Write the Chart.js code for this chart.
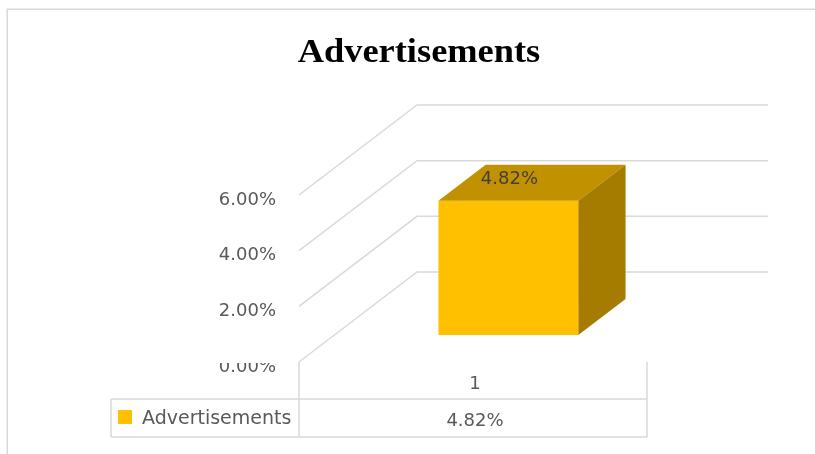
<!DOCTYPE html>
<html>
<head>
<meta charset="utf-8">
<style>
  html, body { margin: 0; padding: 0; background: #ffffff; overflow: hidden; }
  #wrap { width: 815px; height: 454px; position: relative; }
  canvas { display: block; }
</style>
<script src="https://cdn.jsdelivr.net/npm/chart.js@4.4.1/dist/chart.umd.min.js"></script>
</head>
<body>
<div id="wrap"><canvas id="c" width="815" height="454"></canvas></div>
<script>
// ---- data ----
const chartTitle = 'Advertisements';
const categories = ['1'];
const seriesName = 'Advertisements';
const seriesValues = [4.82];
const yTicks = [0, 2, 4, 6];

// ---- style ----
const GRID = '#d9d9d9';
const BAR_FRONT = '#FFC000';
const BAR_TOP = '#C29100';
const BAR_SIDE = '#A67C00';
const TEXT = '#595959';
const DEPTH = { x: 118, y: -90 };   // floor depth vector (front -> back wall)
const BAR_T0 = 0.3, BAR_T1 = 0.7;   // bar depth span
const fmt = v => v.toFixed(2) + '%';
const NUM_FONT = '18px "DejaVu Sans"';

const excel3d = {
  id: 'excel3d',
  beforeDraw(chart) {
    const ctx = chart.ctx;
    ctx.save();
    ctx.fillStyle = '#ffffff';
    ctx.fillRect(0, 0, chart.width, chart.height);
    // outer chart border (top + left)
    ctx.strokeStyle = GRID;
    ctx.lineWidth = 1.5;
    ctx.beginPath();
    ctx.moveTo(7.25, chart.height);
    ctx.lineTo(7.25, 9.25);
    ctx.lineTo(chart.width, 9.25);
    ctx.stroke();
    // title (slightly widened like the reference)
    ctx.fillStyle = '#000000';
    ctx.font = 'bold 34px "Liberation Serif"';
    ctx.textAlign = 'center';
    ctx.textBaseline = 'alphabetic';
    ctx.translate(419, 62);
    ctx.scale(1.07, 1);
    ctx.fillText(chartTitle, 0, 0);
    ctx.restore();
  },
  beforeDatasetsDraw(chart) {
    const ctx = chart.ctx, y = chart.scales.y, a = chart.chartArea;
    ctx.save();
    // gridlines: side wall diagonal + back wall horizontal
    ctx.strokeStyle = GRID;
    ctx.lineWidth = 1.5;
    yTicks.forEach(v => {
      const py = y.getPixelForValue(v);
      ctx.beginPath();
      ctx.moveTo(a.left, py);
      ctx.lineTo(a.left + DEPTH.x, py + DEPTH.y);
      ctx.lineTo(a.right + DEPTH.x + 3, py + DEPTH.y);
      ctx.stroke();
    });
    // value axis labels
    ctx.fillStyle = TEXT;
    ctx.font = NUM_FONT;
    ctx.textAlign = 'right';
    ctx.textBaseline = 'alphabetic';
    yTicks.forEach(v => {
      const py = y.getPixelForValue(v);
      ctx.save();
      if (py >= a.bottom - 1) {
        ctx.beginPath();
        ctx.rect(0, a.bottom + 1, chart.width, 60);
        ctx.clip();
      }
      ctx.fillText(fmt(v), 276, py + 9.5);
      ctx.restore();
    });
    ctx.restore();
    // shift so that the library draws the bar front face at its depth
    ctx.save();
    ctx.translate(DEPTH.x * BAR_T0, DEPTH.y * BAR_T0);
  },
  afterDatasetsDraw(chart) {
    const ctx = chart.ctx;
    ctx.restore();
    const meta = chart.getDatasetMeta(0);
    const ox = DEPTH.x * BAR_T0, oy = DEPTH.y * BAR_T0;
    const dx = DEPTH.x * (BAR_T1 - BAR_T0), dy = DEPTH.y * (BAR_T1 - BAR_T0);
    meta.data.forEach((el, i) => {
      const p = el.getProps(['x', 'y', 'base', 'width'], true);
      const L = p.x - p.width / 2 + ox, R = p.x + p.width / 2 + ox;
      const T = Math.min(p.y, p.base) + oy, B = Math.max(p.y, p.base) + oy;
      ctx.save();
      // top face
      ctx.fillStyle = BAR_TOP;
      ctx.beginPath();
      ctx.moveTo(L, T); ctx.lineTo(L + dx, T + dy); ctx.lineTo(R + dx, T + dy); ctx.lineTo(R, T);
      ctx.closePath(); ctx.fill();
      // side face
      ctx.fillStyle = BAR_SIDE;
      ctx.beginPath();
      ctx.moveTo(R, T); ctx.lineTo(R + dx, T + dy); ctx.lineTo(R + dx, B + dy); ctx.lineTo(R, B);
      ctx.closePath(); ctx.fill();
      // data label
      ctx.fillStyle = '#404040';
      ctx.font = NUM_FONT;
      ctx.textAlign = 'center';
      ctx.textBaseline = 'alphabetic';
      ctx.fillText(fmt(seriesValues[i]), (L + R) / 2 + 1, T - 17);
      ctx.restore();
    });
  },
  afterDraw(chart) {
    const ctx = chart.ctx, a = chart.chartArea, x = chart.scales.x;
    const tableTop = 399, tableBottom = 437, tableLeft = 111;
    ctx.save();
    ctx.strokeStyle = GRID;
    ctx.lineWidth = 1.5;
    ctx.beginPath();
    ctx.moveTo(a.left, a.bottom); ctx.lineTo(a.left, tableBottom);
    ctx.moveTo(a.right, a.bottom); ctx.lineTo(a.right, tableBottom);
    ctx.moveTo(tableLeft, tableTop); ctx.lineTo(a.right, tableTop);
    ctx.moveTo(tableLeft, tableBottom); ctx.lineTo(a.right, tableBottom);
    ctx.moveTo(tableLeft, tableTop); ctx.lineTo(tableLeft, tableBottom);
    ctx.stroke();
    // category labels + table values
    ctx.fillStyle = TEXT;
    ctx.font = NUM_FONT;
    ctx.textAlign = 'center';
    ctx.textBaseline = 'alphabetic';
    categories.forEach((c, i) => {
      const px = x.getPixelForValue(i) + 2;
      ctx.fillText(c, px, 389);
      ctx.fillText(fmt(seriesValues[i]), px, 426);
    });
    // legend key in table
    ctx.fillStyle = BAR_FRONT;
    ctx.fillRect(118, 410, 14, 14);
    ctx.fillStyle = TEXT;
    ctx.font = '19px "DejaVu Sans"';
    ctx.textAlign = 'left';
    ctx.fillText(seriesName, 142, 424);
    ctx.restore();
  }
};

new Chart(document.getElementById('c'), {
  type: 'bar',
  data: {
    labels: categories,
    datasets: [{
      label: seriesName,
      data: seriesValues,
      backgroundColor: BAR_FRONT,
      borderWidth: 0,
      barPercentage: 0.402,
      categoryPercentage: 1.0
    }]
  },
  options: {
    responsive: false,
    devicePixelRatio: 1,
    animation: false,
    layout: { padding: { left: 299, right: 168, top: 195, bottom: 92 } },
    plugins: {
      legend: { display: false },
      title: { display: false },
      tooltip: { enabled: false }
    },
    scales: {
      x: { type: 'category', display: false, offset: true },
      y: { display: false, min: 0, max: 6, ticks: { stepSize: 2 } }
    }
  },
  plugins: [excel3d]
});
</script>
</body>
</html>
